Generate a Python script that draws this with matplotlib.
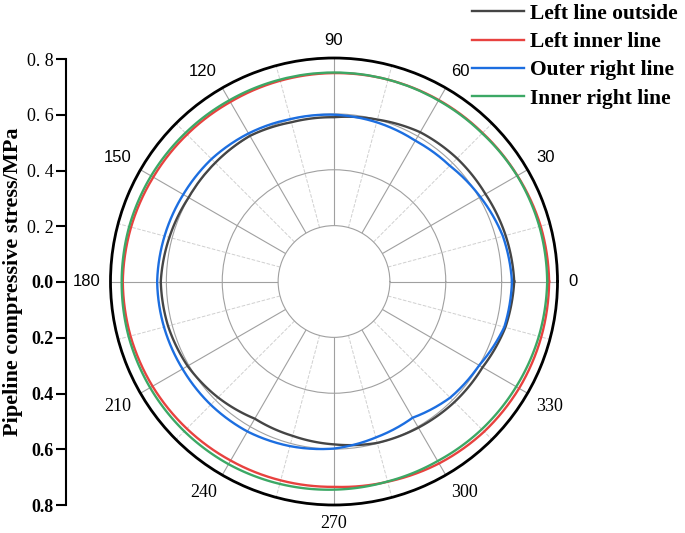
import numpy as np
import matplotlib
matplotlib.use('Agg')
import matplotlib.pyplot as plt

# angles in degrees, every 15 deg
angles = [0, 15, 30, 45, 60, 75, 90, 105, 120, 135, 150, 165,
          180, 195, 210, 225, 240, 255, 270, 285, 300, 315, 330, 345]

left_outside = [0.645, 0.636, 0.626, 0.623, 0.617, 0.600, 0.588, 0.590, 0.602, 0.601, 0.601, 0.610,
                0.620, 0.615, 0.605, 0.587, 0.567, 0.572, 0.583, 0.598, 0.604, 0.610, 0.614, 0.635]
left_inner = [0.770, 0.766, 0.758, 0.752, 0.750, 0.748, 0.746, 0.744, 0.742, 0.744, 0.747, 0.752,
              0.756, 0.754, 0.750, 0.745, 0.740, 0.737, 0.735, 0.742, 0.752, 0.760, 0.765, 0.768]
outer_right = [0.637, 0.626, 0.605, 0.586, 0.582, 0.590, 0.597, 0.602, 0.612, 0.620, 0.623, 0.628,
               0.633, 0.630, 0.626, 0.624, 0.620, 0.610, 0.598, 0.578, 0.563, 0.588, 0.600, 0.631]
inner_right = [0.763, 0.761, 0.757, 0.750, 0.748, 0.748, 0.748, 0.748, 0.749, 0.752, 0.756, 0.759,
               0.760, 0.761, 0.760, 0.758, 0.755, 0.750, 0.745, 0.741, 0.742, 0.748, 0.753, 0.759]

series_names = ['Left line outside', 'Left inner line', 'Outer right line', 'Inner right line']
series_colors = ['#454545', '#e8423f', '#1c6ee0', '#3ca865']

theta_ticks = [0, 30, 60, 90, 120, 150, 180, 210, 240, 270, 300, 330]
theta_labels = ['0', '30', '60', '90', '120', '150', '180', '210', '240', '270', '300', '330']
r_labels = ['0. 8', '0. 6', '0. 4', '0. 2', '0.0', '0.2', '0.4', '0.6', '0.8']
r_ticks = [-0.8, -0.6, -0.4, -0.2, 0.0, 0.2, 0.4, 0.6, 0.8]

fig = plt.figure(figsize=(6.85, 5.33), dpi=100)
W, H = 685, 533
cx, cy, R = 334, 281.5, 223.5

ax = fig.add_axes([(cx - R) / W, (H - cy - R) / H, 2 * R / W, 2 * R / H], projection='polar')

th = np.deg2rad(angles + [360])
all_data = [left_outside, left_inner, outer_right, inner_right]
lines = []
for vals, name, col in zip(all_data, series_names, series_colors):
    ln, = ax.plot(th, vals + [vals[0]], color=col, lw=1.7, label=name)
    # let the polar transform draw arcs between the points
    ln.get_path()._interpolation_steps = 40
    lines.append(ln)

ax.set_rlim(0.2, 0.8)
ax.set_rorigin(0)
ax.set_rticks([0.4, 0.6])
ax.set_yticklabels([])
ax.yaxis.grid(True, color='#a0a0a0', lw=0.8)

ax.set_xticks(np.deg2rad(theta_ticks))
ax.set_xticks(np.deg2rad(np.arange(15, 360, 30)), minor=True)
ax.set_xticklabels([])
ax.xaxis.grid(True, which='major', color='#a0a0a0', lw=0.8)
ax.xaxis.grid(True, which='minor', color='#d0d0d0', lw=0.7, ls='--')
ax.tick_params(axis='x', which='major', direction='in', length=7, width=1.5)
ax.tick_params(axis='x', which='minor', direction='in', length=4, width=1.2)

# angle labels placed just outside the ring, edge aligned like Origin does
for deg, lab in zip(theta_ticks, theta_labels):
    c, s = np.cos(np.deg2rad(deg)), np.sin(np.deg2rad(deg))
    ha = 'left' if c > 0.1 else ('right' if c < -0.1 else 'center')
    va = 'bottom' if s > 0.1 else ('top' if s < -0.1 else 'center')
    if deg <= 180:
        fam, fs = 'Liberation Sans', 12
    else:
        fam, fs = 'Liberation Serif', 13
    ax.annotate(lab, xy=(np.deg2rad(deg), 0.8), xytext=(7.5 * c, 7.5 * s),
                textcoords='offset points', ha=ha, va=va, family=fam, fontsize=fs,
                annotation_clip=False)

ax.spines['polar'].set_linewidth(2)
ax.spines['polar'].set_color('black')
ax.spines['inner'].set_color('#a0a0a0')
ax.spines['inner'].set_linewidth(0.8)

# left stress axis
lax = fig.add_axes([66 / W, (H - 505) / H, 0.001, 446 / H])
lax.set_ylim(0.8, -0.8)
lax.set_xticks([])
for s in ['top', 'right', 'bottom']:
    lax.spines[s].set_visible(False)
lax.spines['left'].set_linewidth(1.5)
lax.set_yticks(r_ticks)
lax.set_yticklabels(r_labels)
lax.tick_params(axis='y', direction='out', length=7, width=1.5, pad=2, labelsize=13)
for i, t in enumerate(lax.get_yticklabels()):
    t.set_family('Liberation Serif')
    if i >= 4:
        t.set_fontweight('bold')
lax.set_ylabel('Pipeline compressive stress/MPa', family='Liberation Serif',
               fontweight='bold', fontsize=16, labelpad=3)

fig.legend(handles=lines, loc='upper right', bbox_to_anchor=(1.018, 1.029), frameon=False,
           prop={'family': 'Liberation Serif', 'weight': 'bold', 'size': 15.5},
           handlelength=2.4, handletextpad=0.3, labelspacing=0.38)

fig.savefig('out.png', dpi=100)
